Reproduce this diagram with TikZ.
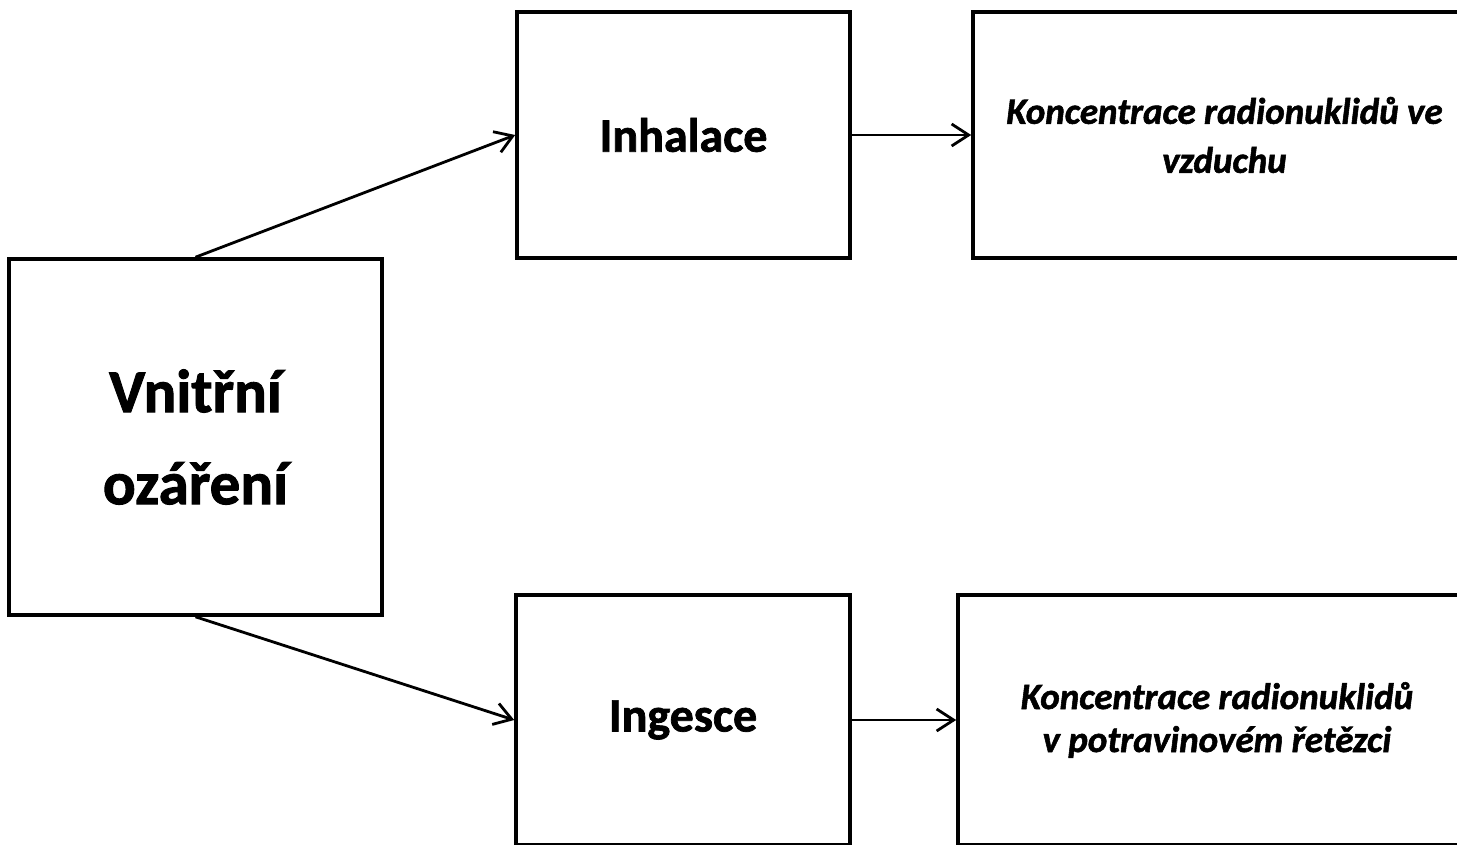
\documentclass[tikz,border=0pt]{standalone}
\usepackage{fontspec}
\setmainfont{Carlito}[BoldFeatures={FakeBold=1.5},BoldItalicFeatures={FakeBold=1.5}]
\usetikzlibrary{arrows.meta}
\begin{document}
\begin{tikzpicture}[x=1pt,y=-1pt,
  box/.style={draw=black,line width=3.6pt,inner sep=0pt,align=center,anchor=center},
  conn/.style={line width=2.8pt,-{Straight Barb[length=17pt,width=22pt,line width=2.8pt]}}]
\clip (0,0) rectangle (1457,844);
\node[box,minimum width=373pt,minimum height=356pt,
  font=\fontsize{61}{92}\selectfont\bfseries] (L) at (195.5,437) {Vnitřní\\ozáření};
\node[box,minimum width=333pt,minimum height=246pt,
  font=\fontsize{48}{50}\selectfont\bfseries] (inh) at (683.5,135) {Inhalace};
\node[box,minimum width=503pt,minimum height=246pt,
  font=\fontsize{37}{49}\selectfont\bfseries\itshape] (air) at (1224.5,135) {Koncentrace radionuklidů ve\\vzduchu};
\node[box,minimum width=334pt,minimum height=250pt,
  font=\fontsize{48}{50}\selectfont\bfseries] (ing) at (683,720) {Ingesce};
\node[box,minimum width=518pt,minimum height=250pt,
  font=\fontsize{37}{43}\selectfont\bfseries\itshape] (food) at (1217,720) {Koncentrace radionuklidů\\v potravinovém řetězci};
\draw[conn] (L.north) -- (inh.west);
\draw[conn] (L.south) -- (ing.west);
\draw[conn] (inh.east) -- (air.west);
\draw[conn] (ing.east) -- (food.west);
\end{tikzpicture}
\end{document}
